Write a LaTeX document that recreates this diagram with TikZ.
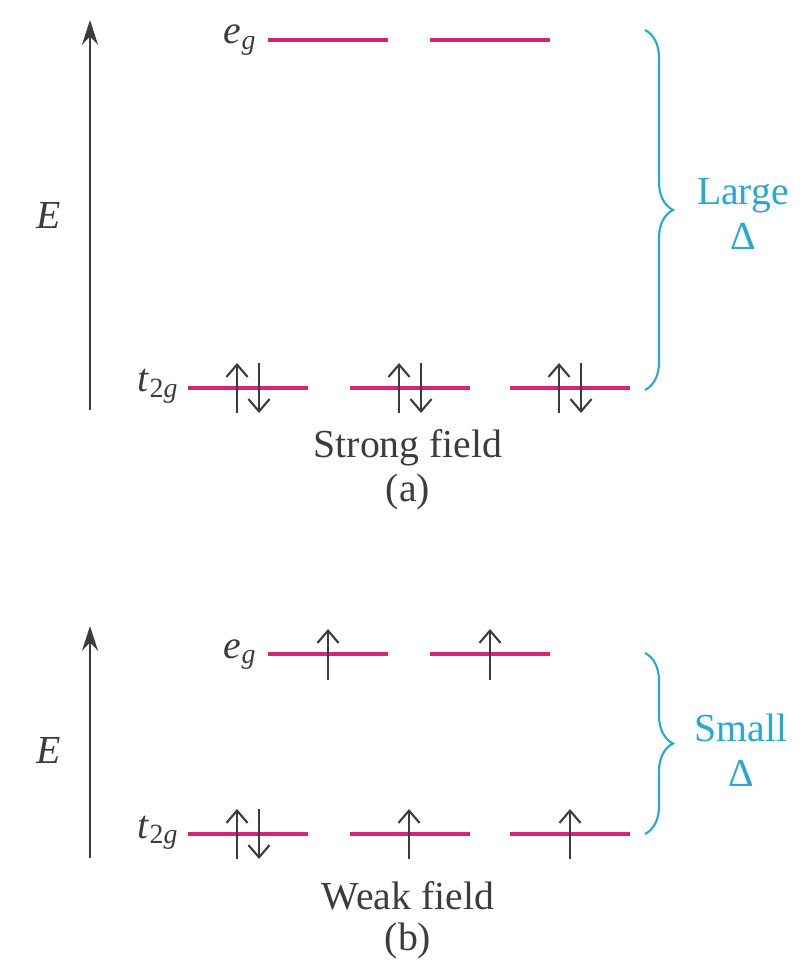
\documentclass[tikz,border=0pt]{standalone}
\usepackage{fontspec}
\setmainfont{Liberation Serif}
\usetikzlibrary{arrows.meta,decorations.pathreplacing}
\definecolor{levelpink}{RGB}{214,36,122}
\definecolor{deltablue}{RGB}{40,168,212}
\definecolor{inkgray}{RGB}{60,60,60}

\begin{document}
\begin{tikzpicture}[x=0.01cm, y=-0.01cm, >=stealth,
    level/.style = {draw=levelpink, line width=1.2pt},
    spin/.style = {draw=inkgray, line width=0.6pt, -{Straight Barb[length=3.5pt, width=6pt]}},
    axis/.style = {draw=inkgray, line width=0.7pt, -{Stealth[length=7pt, width=4.5pt]}},
    lbl/.style = {text=inkgray, inner sep=0pt, font=\fontsize{11.3}{13}\selectfont},
    gap/.style = {draw=deltablue, line width=0.6pt, decorate, decoration={brace, amplitude=0.28cm}},
    gaptext/.style = {text=deltablue, align=center, inner sep=0pt, font=\fontsize{11.3}{12.8}\selectfont}]
    \useasboundingbox (0,0) rectangle (808,967);

    % (a) strong field
    \coordinate (a-bot) at (90,410);
    \coordinate (a-top) at (90,20);
    \draw[axis] (a-bot) -- (a-top);
    \node[lbl] (a-E) at (49,215) {\textit{E}};
    \node[lbl, anchor=base east] (a-eg) at (258,44) {\textit{e}\textsubscript{\textit{g}}};
    \node[lbl, anchor=base east] (a-t2g) at (180,392) {\textit{t}\textsubscript{2\textit{g}}};
    \foreach \x in {328,490}
        \draw[level] (\x-60,40) -- (\x+60,40);
    \foreach \x in {248,410,570} {
        \draw[level] (\x-60,388) -- (\x+60,388);
        \draw[spin] (\x-11,413) -- (\x-11,363);
        \draw[spin] (\x+11,363) -- (\x+11,413);
    }
    \coordinate (a-gtop) at (645,30);
    \coordinate (a-gbot) at (645,390);
    \draw[gap] (a-gtop) -- (a-gbot);
    \node[gaptext] (a-delta) at (743,214) {Large\\Δ};
    \node[lbl] (a-field) at (408,448) {Strong field};
    \node[lbl] (a-tag) at (408,492) {(a)};

    % (b) weak field
    \coordinate (b-bot) at (90,858);
    \coordinate (b-top) at (90,626);
    \draw[axis] (b-bot) -- (b-top);
    \node[lbl] (b-E) at (49,750) {\textit{E}};
    \node[lbl, anchor=base east] (b-eg) at (258,658) {\textit{e}\textsubscript{\textit{g}}};
    \node[lbl, anchor=base east] (b-t2g) at (180,838) {\textit{t}\textsubscript{2\textit{g}}};
    \foreach \x in {328,490} {
        \draw[level] (\x-60,654) -- (\x+60,654);
        \draw[spin] (\x,680) -- (\x,629);
    }
    \foreach \x in {248,410,570}
        \draw[level] (\x-60,834) -- (\x+60,834);
    \draw[spin] (237,859) -- (237,809);
    \draw[spin] (259,809) -- (259,859);
    \draw[spin] (409,859) -- (409,809);
    \draw[spin] (570,859) -- (570,809);
    \coordinate (b-gtop) at (645,653);
    \coordinate (b-gbot) at (645,834);
    \draw[gap] (b-gtop) -- (b-gbot);
    \node[gaptext] (b-delta) at (741,750) {Small\\Δ};
    \node[lbl] (b-field) at (408,896) {Weak field};
    \node[lbl] (b-tag) at (408,941) {(b)};
\end{tikzpicture}
\end{document}
